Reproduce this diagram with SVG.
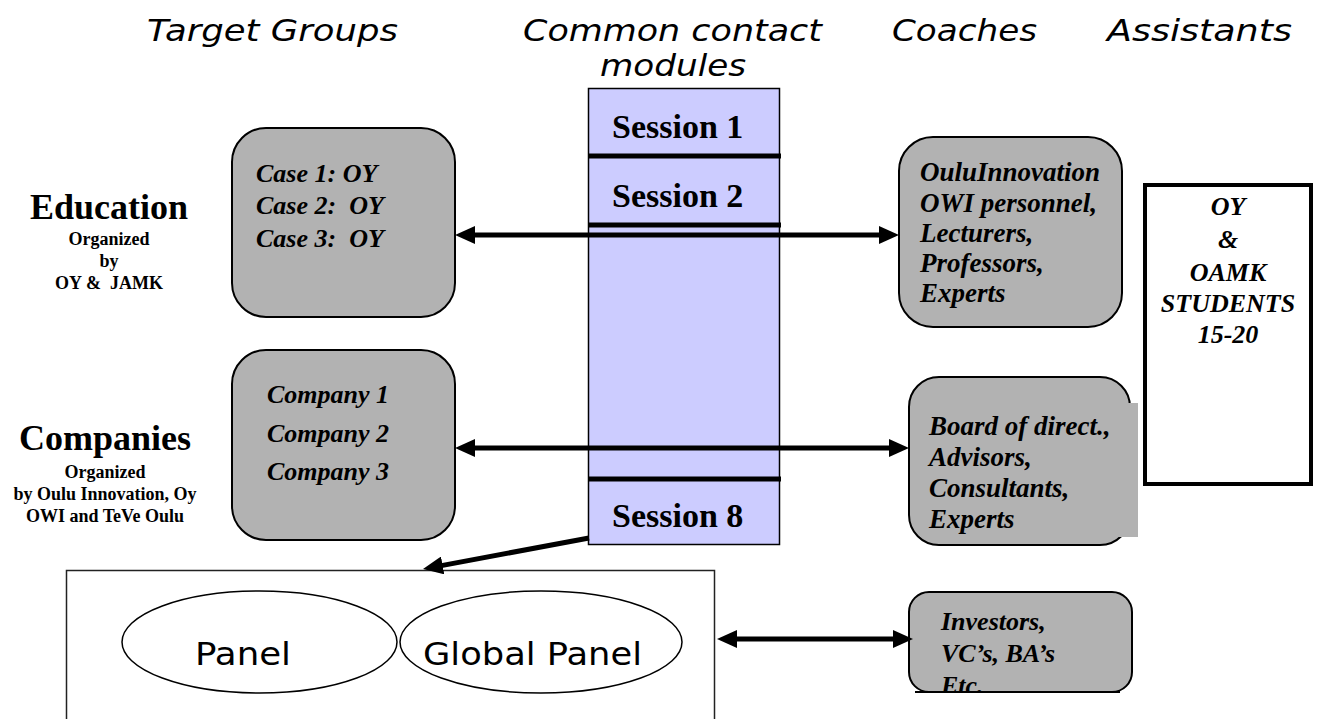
<svg xmlns="http://www.w3.org/2000/svg" width="1317" height="719" viewBox="0 0 1317 719">
  <style>
    .hdr { font-family: "DejaVu Sans", "Liberation Sans", sans-serif; font-style: italic; font-size: 31px; fill: #000; }
    .panel { font-family: "DejaVu Sans", "Liberation Sans", sans-serif; font-size: 32px; fill: #000; }
    .grp { font-family: "Liberation Serif", "Times New Roman", serif; font-weight: bold; fill: #000; text-anchor: middle; }
    .big { font-size: 36px; }
    .small { font-size: 18px; }
    .item { font-family: "Liberation Serif", "Times New Roman", serif; font-weight: bold; font-style: italic; font-size: 26px; fill: #000; }
    .coach { font-size: 27px; }
    .sess { font-family: "Liberation Serif", "Times New Roman", serif; font-weight: bold; font-size: 34px; fill: #000; }
    .gray { fill: #b2b2b2; stroke: #000; stroke-width: 2; }
    .oval { fill: #fff; stroke: #000; stroke-width: 1.5; }
    .link { stroke: #000; stroke-width: 5; fill: none; }
    .divider { stroke: #000; stroke-width: 5; }
  </style>
  <defs>
    <marker id="head" markerUnits="userSpaceOnUse" markerWidth="20" markerHeight="18" refX="4" refY="9" orient="auto-start-reverse">
      <path d="M0,0 L20,9 L0,18 z" fill="#000"/>
    </marker>
    <clipPath id="investorsClip">
      <rect x="900" y="580" width="240" height="112"/>
    </clipPath>
  </defs>

  <!-- column headings -->
  <g id="headings">
    <text class="hdr" x="147" y="41" textLength="251" lengthAdjust="spacingAndGlyphs">Target Groups</text>
    <text class="hdr" x="523" y="41" textLength="299" lengthAdjust="spacingAndGlyphs">Common contact</text>
    <text class="hdr" x="600" y="76" textLength="146" lengthAdjust="spacingAndGlyphs">modules</text>
    <text class="hdr" x="892" y="41" textLength="145" lengthAdjust="spacingAndGlyphs">Coaches</text>
    <text class="hdr" x="1107" y="41" textLength="185" lengthAdjust="spacingAndGlyphs">Assistants</text>
  </g>

  <!-- target group labels -->
  <g id="education-label">
    <text class="grp big" x="109" y="219">Education</text>
    <text class="grp small" x="109" y="245">Organized</text>
    <text class="grp small" x="109" y="267">by</text>
    <text class="grp small" x="109" y="289" xml:space="preserve">OY &amp;  JAMK</text>
  </g>
  <g id="companies-label">
    <text class="grp big" x="105" y="450">Companies</text>
    <text class="grp small" x="105" y="478">Organized</text>
    <text class="grp small" x="105" y="500">by Oulu Innovation, Oy</text>
    <text class="grp small" x="105" y="522">OWI and TeVe Oulu</text>
  </g>

  <!-- cases -->
  <g id="cases">
    <rect class="gray" x="232" y="128" width="223" height="189" rx="34" ry="34"/>
    <text class="item" x="256" y="182">Case 1: OY</text>
    <text class="item" x="256" y="214" xml:space="preserve">Case 2:  OY</text>
    <text class="item" x="256" y="247" xml:space="preserve">Case 3:  OY</text>
  </g>

  <!-- companies -->
  <g id="companies">
    <rect class="gray" x="232" y="350" width="223" height="190" rx="34" ry="34"/>
    <text class="item" x="267" y="403">Company 1</text>
    <text class="item" x="267" y="442">Company 2</text>
    <text class="item" x="267" y="480">Company 3</text>
  </g>

  <!-- contact module column -->
  <g id="sessions">
    <rect x="588.5" y="88.5" width="191" height="456" fill="#ccccff" stroke="#000" stroke-width="1.5"/>
    <line class="divider" x1="588" y1="156" x2="781" y2="156"/>
    <line class="divider" x1="588" y1="225" x2="781" y2="225"/>
    <line class="divider" x1="588" y1="479" x2="781" y2="479"/>
    <text class="sess" x="612" y="138">Session 1</text>
    <text class="sess" x="612" y="207">Session 2</text>
    <text class="sess" x="612" y="527">Session 8</text>
  </g>

  <!-- coaches for education -->
  <g id="coaches-education">
    <rect class="gray" x="899" y="137" width="223" height="190" rx="34" ry="34"/>
    <text class="item coach" x="920" y="181">OuluInnovation</text>
    <text class="item coach" x="920" y="212">OWI personnel,</text>
    <text class="item coach" x="920" y="242">Lecturers,</text>
    <text class="item coach" x="920" y="272">Professors,</text>
    <text class="item coach" x="920" y="302">Experts</text>
  </g>

  <!-- coaches for companies -->
  <g id="coaches-companies">
    <rect class="gray" x="909" y="377" width="221" height="168" rx="30" ry="30"/>
    <rect x="920" y="403" width="218" height="134" fill="#b2b2b2"/>
    <text class="item coach" x="929" y="435">Board of direct.,</text>
    <text class="item coach" x="929" y="466">Advisors,</text>
    <text class="item coach" x="929" y="497">Consultants,</text>
    <text class="item coach" x="929" y="528">Experts</text>
  </g>

  <!-- assistants -->
  <g id="assistants">
    <rect x="1145" y="185" width="166" height="299" fill="#fff" stroke="#000" stroke-width="4"/>
    <text class="item" x="1228" y="215" text-anchor="middle">OY</text>
    <text class="item" x="1228" y="248" text-anchor="middle">&amp;</text>
    <text class="item" x="1228" y="281" text-anchor="middle">OAMK</text>
    <text class="item" x="1228" y="312" text-anchor="middle">STUDENTS</text>
    <text class="item" x="1228" y="343" text-anchor="middle">15-20</text>
  </g>

  <!-- panels -->
  <g id="panels">
    <rect x="66.5" y="570.5" width="648" height="170" fill="#fff" stroke="#222" stroke-width="1.5"/>
    <ellipse class="oval" cx="259.5" cy="642" rx="137.5" ry="51"/>
    <ellipse class="oval" cx="541" cy="642" rx="141" ry="51"/>
    <text class="panel" x="195" y="665" textLength="96" lengthAdjust="spacingAndGlyphs">Panel</text>
    <text class="panel" x="423" y="665" textLength="219" lengthAdjust="spacingAndGlyphs">Global Panel</text>
  </g>

  <!-- investors -->
  <g id="investors">
    <rect class="gray" x="909" y="592" width="223" height="100" rx="20" ry="20"/>
    <g clip-path="url(#investorsClip)">
      <text class="item" x="941" y="630">Investors,</text>
      <text class="item" x="941" y="662">VC’s, BA’s</text>
      <text class="item" x="941" y="694">Etc.</text>
    </g>
    <line x1="915" y1="692" x2="1120" y2="692" stroke="#000" stroke-width="2"/>
  </g>

  <!-- connectors -->
  <g id="connectors">
    <line class="link" x1="471" y1="235" x2="883" y2="235" marker-start="url(#head)" marker-end="url(#head)"/>
    <line class="link" x1="471" y1="448" x2="893" y2="448" marker-start="url(#head)" marker-end="url(#head)"/>
    <line class="link" x1="733" y1="639" x2="897" y2="639" stroke-width="4" marker-start="url(#head)" marker-end="url(#head)"/>
    <line class="link" x1="589" y1="538" x2="438.7" y2="566.1" marker-end="url(#head)"/>
  </g>
</svg>
